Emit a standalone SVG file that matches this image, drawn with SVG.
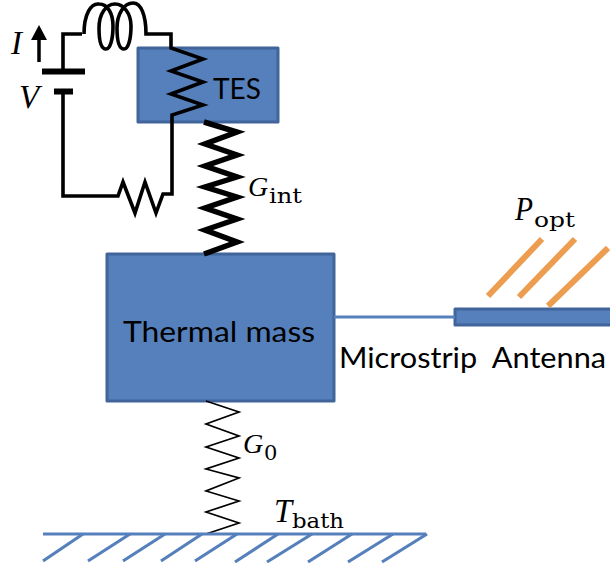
<svg xmlns="http://www.w3.org/2000/svg" width="610" height="573" viewBox="0 0 610 573">
<style>
.box{fill:#5580bb;stroke:#41659a;stroke-width:3;stroke-linejoin:round}
.blk{fill:none;stroke:#000;stroke-linejoin:miter}
.w{stroke-width:3.6}
.blue{fill:none;stroke:#5580bb;stroke-width:3.2}
.org{stroke:#ec9d50;stroke-width:6}
.s{font-family:Lato,"Liberation Sans",sans-serif;font-size:28px;fill:#000}
.m{font-family:"Liberation Serif",serif;font-style:italic;font-size:33px;fill:#000}
.g{font-size:28px}
.sub{font-family:"DejaVu Serif","Liberation Serif",serif;font-size:21px;fill:#000}
</style>
<g id="tes"><rect class="box" x="138" y="48" width="140" height="74"/><text class="s" x="213" y="99" textLength="48" lengthAdjust="spacingAndGlyphs">TES</text></g>
<g id="thermal-mass"><rect class="box" x="107" y="254" width="227" height="147"/><text class="s" x="123" y="342" textLength="192" lengthAdjust="spacingAndGlyphs">Thermal mass</text></g>
<g id="antenna"><rect class="box" x="455" y="309" width="157" height="16"/><text class="s" x="339" y="368" textLength="267" lengthAdjust="spacingAndGlyphs" xml:space="preserve">Microstrip  Antenna</text></g>
<g id="connectors">
<path class="blue" d="M334 317H455"/>
<path class="blk w" d="M63 70V34H82"/>
<path class="blk w" d="M84 34C84 14 91 3 99 4C108 4 113 14 113 26C113 40 110 49 106 49C101 49 99 40 99 28C99 14 106 4 115 4C124 4 131 14 131 26C131 40 128 49 124 49C119 49 117 40 117 28C117 14 124 3 133 3C141 3 146 15 146 34H171V48L203 59L171 71L203 82L171 94L203 105L172 115V194H163L156 213L145 182L135 213L123 182L118 196H63V92"/>
<path class="blk" style="stroke-width:6" d="M42 71.500H85M54 91.500H73"/>
<path class="blk" style="stroke-width:3.500" d="M39 62V32"/>
<path d="M39 25L47 40H31Z"/>
<path class="blk" style="stroke-width:5.500" d="M204 122L237 132L205 144L237 155L205 166L237 177L205 187L237 197L205 208L237 219L205 230L237 242L204 254"/>
<path class="blk" style="stroke-width:1.700" d="M206 401L239 412L206 424L239 436L206 447L239 458L206 469L239 478L206 491L239 501L206 512L239 523L206 534"/>
<path class="blue" d="M43 534H426"/>
<path class="blue" d="M83 534L43 561M130 534L88 561M165 534L123 561M202 534L161 561M237 534L195 561M278 534L235 562M312 534L267 562M352 534L308 562M393 534L348 562M427 534L382 562"/>
<path class="org" d="M542 239L488 296M575 239L519 297M608 248L548 306"/>
</g>
<g id="labels">
<text class="m" x="11" y="54">I</text>
<text class="m" x="19" y="108">V</text>
<text class="m g" x="248" y="196">G</text><text class="sub" x="269" y="203" textLength="33" lengthAdjust="spacingAndGlyphs">int</text>
<text class="m" x="515" y="220" textLength="18" lengthAdjust="spacingAndGlyphs">P</text><text class="sub" x="534" y="227" textLength="41" lengthAdjust="spacingAndGlyphs">opt</text>
<text class="m g" x="243" y="453">G</text><text class="sub" x="264" y="460">0</text>
<text class="m" x="274" y="522" textLength="18" lengthAdjust="spacingAndGlyphs">T</text><text class="sub" x="292" y="528" textLength="52" lengthAdjust="spacingAndGlyphs">bath</text>
</g>
</svg>
